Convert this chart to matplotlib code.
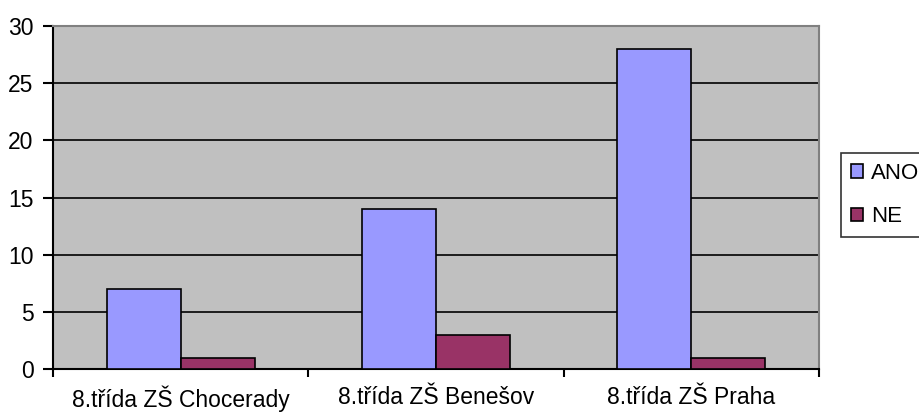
import matplotlib.pyplot as plt
import numpy as np

plt.rcParams["font.family"] = ["Liberation Sans", "DejaVu Sans"]

categories = ["8.třída ZŠ Chocerady", "8.třída ZŠ Benešov", "8.třída ZŠ Praha"]
ano = [7, 14, 28]
ne = [1, 3, 1]
y_ticks = [0, 5, 10, 15, 20, 25, 30]

fig = plt.figure(figsize=(9.2, 4.12), dpi=100)
ax = fig.add_axes([53 / 920, 1 - 369 / 412, (819 - 53) / 920, (369 - 26) / 412])
ax.set_facecolor("#C0C0C0")

x = np.arange(len(categories))
w = 0.29
ax.bar(x - w / 2, ano, w, color="#9999FF", edgecolor="black", linewidth=1.2,
       label="ANO", zorder=3)
ax.bar(x + w / 2, ne, w, color="#993366", edgecolor="black", linewidth=1.2,
       label="NE", zorder=3)

ax.set_xlim(-0.5, len(categories) - 0.5)
ax.set_ylim(0, 30)
ax.set_yticks(y_ticks)
for v in y_ticks[1:-1]:
    ax.axhline(v, color="black", linewidth=1.2, zorder=1)

# category boundaries as major ticks, labels on minor ticks
ax.set_xticks(np.arange(len(categories) + 1) - 0.5)
ax.set_xticklabels([])
ax.set_xticks(x, minor=True)
ax.set_xticklabels(categories, minor=True)
ax.tick_params(axis="x", which="minor", length=0, pad=12, labelsize=16.5)
ax.tick_params(axis="x", which="major", length=6, width=1.5, direction="out")
ax.tick_params(axis="y", length=7, width=1.5, direction="out", pad=7, labelsize=16.5)

for s in ["top", "right"]:
    ax.spines[s].set_color("#808080")
    ax.spines[s].set_linewidth(1.5)
for s in ["left", "bottom"]:
    ax.spines[s].set_color("black")
    ax.spines[s].set_linewidth(1.5)

leg = fig.legend(loc="upper left", bbox_to_anchor=(841 / 920, 1 - 153 / 412),
                 borderaxespad=0, fontsize=16, frameon=True, fancybox=False,
                 edgecolor="black", handlelength=0.55, handleheight=0.55,
                 handletextpad=0.35, labelspacing=1.0, borderpad=0.45)
leg.get_frame().set_linewidth(1.2)

fig.savefig("out.png", dpi=100)
